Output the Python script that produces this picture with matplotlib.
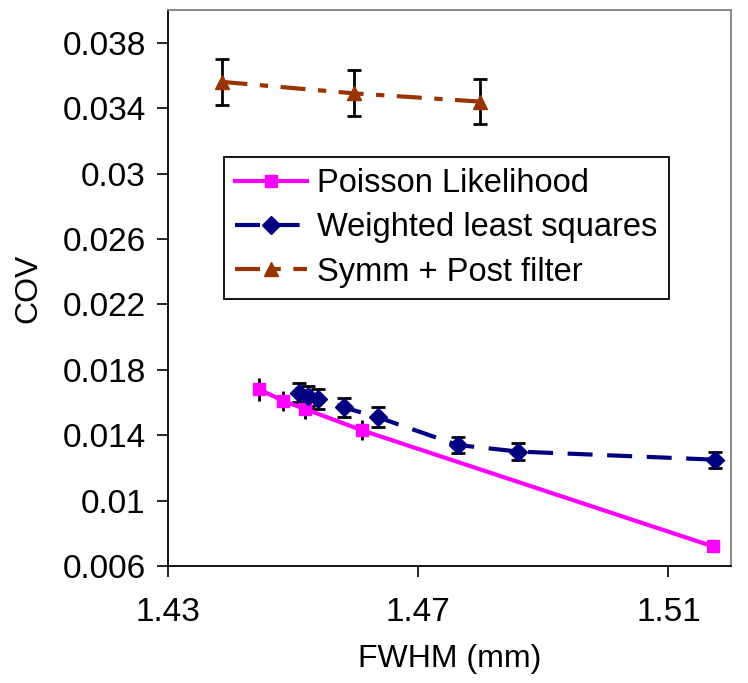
import numpy as np
import matplotlib
matplotlib.use('Agg')
import matplotlib.pyplot as plt

plt.rcParams['font.family'] = ['Liberation Sans', 'DejaVu Sans']

# data
fwhm_pl = [1.4446, 1.4484, 1.4519, 1.4610, 1.5171]
cov_pl = [0.0168, 0.0161, 0.0156, 0.0143, 0.0072]
err_pl = [0.0007, 0.0006, 0.0006, 0.0006, 0.0003]

fwhm_wls = [1.4510, 1.4524, 1.4540, 1.4581, 1.4635, 1.4763, 1.4859, 1.5175]
cov_wls = [0.0166, 0.0164, 0.0162, 0.0157, 0.0151, 0.0134, 0.0130, 0.0125]
err_wls = [0.0006, 0.0006, 0.0006, 0.0006, 0.0006, 0.0005, 0.0005, 0.0005]

fwhm_sp = [1.4387, 1.4598, 1.4798]
cov_sp = [0.0356, 0.0349, 0.0344]
err_sp = [0.0014, 0.0014, 0.0014]

labels = ['Poisson Likelihood', 'Weighted least squares', 'Symm + Post filter']
xticks = [1.43, 1.47, 1.51]
yticks = [0.006, 0.01, 0.014, 0.018, 0.022, 0.026, 0.03, 0.034, 0.038]
ytick_labels = ['0.006', '0.01', '0.014', '0.018', '0.022', '0.026', '0.03', '0.034', '0.038']

fig = plt.figure(figsize=(7.48, 6.83), dpi=100)
ax = fig.add_axes([0.2246, 0.1713, 0.7527, 0.8141])

# error bars first, underneath the lines
ax.errorbar(fwhm_pl, cov_pl, yerr=err_pl, fmt='none', ecolor='black', elinewidth=2, capsize=0, zorder=2)
ax.errorbar(fwhm_wls, cov_wls, yerr=err_wls, fmt='none', ecolor='black', elinewidth=2, capsize=5, capthick=2, zorder=2)
ax.errorbar(fwhm_sp, cov_sp, yerr=err_sp, fmt='none', ecolor='black', elinewidth=2, capsize=5, capthick=2, zorder=2)

ax.plot(fwhm_pl, cov_pl, color='#FF00FF', lw=3, marker='s', ms=9, label=labels[0], zorder=3)
ax.plot(fwhm_wls, cov_wls, color='#000080', lw=3, ls=(0, (6, 3.5)), marker='D', ms=9, label=labels[1], zorder=3)
ax.plot(fwhm_sp, cov_sp, color='#993300', lw=3, ls=(0, (6, 3, 2, 3)), marker='^', ms=10, label=labels[2], zorder=3)

ax.set_xlim(1.43, 1.52)
ax.set_ylim(0.006, 0.04)
ax.set_xticks(xticks)
ax.set_xticklabels([str(t) for t in xticks])
ax.set_yticks(yticks)
ax.set_yticklabels(ytick_labels)
ax.tick_params(direction='out', length=8, width=1.2, labelsize=24)
ax.tick_params(axis='y', pad=8)
ax.tick_params(axis='x', pad=14)

for s in ['left', 'bottom']:
    ax.spines[s].set_color('black')
    ax.spines[s].set_linewidth(1.3)
for s in ['top', 'right']:
    ax.spines[s].set_color('#808080')
    ax.spines[s].set_linewidth(1.3)

ax.set_xlabel('FWHM (mm)', fontsize=23, labelpad=12)
ax.set_ylabel('COV', fontsize=23, labelpad=14)

leg = ax.legend(loc='upper left', bbox_to_anchor=(0.0995, 0.7356), fontsize=23.5, fancybox=False,
                framealpha=1, edgecolor='black', handlelength=2.2, handletextpad=0.3,
                labelspacing=0.4, borderpad=0.35, borderaxespad=0)
leg.get_frame().set_linewidth(1.3)

fig.savefig('out.png', dpi=100)
